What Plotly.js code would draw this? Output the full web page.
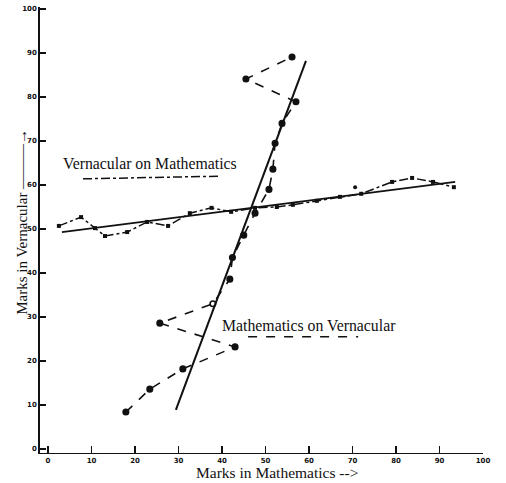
<!DOCTYPE html>
<html>
<head>
<meta charset="utf-8">
<script src="https://cdn.plot.ly/plotly-3.0.1.min.js"></script>
<style>html,body{margin:0;padding:0;background:#fff;}#chart{width:506px;height:483px;}</style>
</head>
<body>
<div id="chart"></div>
<script>
// Vernacular on Mathematics: mean vernacular mark for each mathematics class
var vomMath = [2.5, 7.6, 10.8, 13.1, 18.2, 22.8, 27.6, 32.6, 37.6, 42.1, 47.6, 52.6, 56.3, 61.8, 67.1, 72.0, 79.1, 83.7, 88.5, 93.3];
var vomVern = [50.7, 52.7, 50.2, 48.4, 49.3, 51.6, 50.7, 53.6, 54.8, 53.9, 54.8, 55.0, 55.5, 56.4, 57.3, 58.0, 60.7, 61.6, 60.7, 59.5];
var vomStrayMath = [70.6];
var vomStrayVern = [59.5];

// Mathematics on Vernacular: mean mathematics mark for each vernacular class
var movMath = [17.9, 23.4, 31.0, 43.0, 25.7, 37.9, 41.8, 42.4, 45.0, 47.6, 50.8, 51.7, 52.2, 53.8, 57.0, 45.5, 56.1];
var movVern = [8.4, 13.6, 18.2, 23.2, 28.6, 33.0, 38.6, 43.5, 48.6, 53.6, 59.0, 63.6, 69.5, 74.0, 78.9, 84.1, 89.1];
var movOpen = [false, false, false, false, false, true, false, false, false, false, false, false, false, false, false, false, false];

// Fitted regression lines (end points)
var regVomMath = [3.2, 93.6];
var regVomVern = [49.3, 60.7];
var regMovMath = [29.4, 59.3];
var regMovVern = [8.9, 88.2];

var tickVals = [0, 10, 20, 30, 40, 50, 60, 70, 80, 90, 100];
var tickText = ['0', '10', '20', '30', '40', '50', '60', '70', '80', '90', '100'];

var labelVom = 'Vernacular on Mathematics';
var labelMov = 'Mathematics on Vernacular';
var titleX = 'Marks in Mathematics -->';
var titleY = 'Marks in Vernacular ———→';

var ink = '#111';

var traces = [
  {x: vomMath, y: vomVern, mode: 'lines+markers', name: labelVom,
   line: {color: ink, width: 1.5, dash: 'dashdot'},
   marker: {color: ink, size: 4, symbol: 'square'}},
  {x: vomStrayMath, y: vomStrayVern, mode: 'markers', name: labelVom + ' (point)',
   marker: {color: ink, size: 4}},
  {x: movMath, y: movVern, mode: 'lines+markers', name: labelMov,
   line: {color: ink, width: 1.6, dash: 'dash'},
   marker: {color: ink, size: 5.5,
            symbol: movOpen.map(function(o){return o ? 'circle-open' : 'circle';}),
            line: {color: ink, width: 1.6}}},
  {x: regVomMath, y: regVomVern, mode: 'lines', name: 'Regression: ' + labelVom,
   line: {color: ink, width: 1.8}},
  {x: regMovMath, y: regMovVern, mode: 'lines', name: 'Regression: ' + labelMov,
   line: {color: ink, width: 2}}
];

var serif = 'Liberation Serif, DejaVu Serif, serif';

var layout = {
  width: 506, height: 483,
  margin: {l: 40, r: 23, t: 7, b: 30},
  paper_bgcolor: '#fff', plot_bgcolor: '#fff',
  showlegend: false,
  font: {family: serif, color: ink},
  xaxis: {
    range: [-1.84, 100], tickvals: tickVals, ticktext: tickText,
    ticks: 'inside', ticklen: 7, tickwidth: 1.2, tickcolor: ink,
    showline: true, linecolor: ink, linewidth: 1.2,
    showgrid: false, zeroline: false,
    tickfont: {family: 'DejaVu Sans', size: 7, color: ink, weight: 'bold'}
  },
  yaxis: {
    range: [-0.91, 100.45], tickvals: tickVals, ticktext: tickText,
    ticks: 'inside', ticklen: 6, tickwidth: 1.2, tickcolor: ink,
    showline: true, linecolor: ink, linewidth: 1.8,
    showgrid: false, zeroline: false,
    tickfont: {family: 'DejaVu Sans', size: 7, color: ink, weight: 'bold'}
  },
  annotations: [
    {x: 23.4, y: 64.8, xref: 'x', yref: 'y', text: labelVom, showarrow: false,
     font: {family: serif, size: 15.8, color: ink}},
    {x: 60.0, y: 28.0, xref: 'x', yref: 'y', text: labelMov, showarrow: false,
     font: {family: serif, size: 15.8, color: ink}},
    {x: 0.534, y: -0.043, xref: 'paper', yref: 'paper', yanchor: 'middle', xanchor: 'center',
     text: titleX, showarrow: false, font: {family: serif, size: 15.5, color: ink}},
    {x: -0.041, y: 0.518, xref: 'paper', yref: 'paper', xanchor: 'center', yanchor: 'middle',
     textangle: -90, text: titleY, showarrow: false, font: {family: serif, size: 15, color: ink}}
  ],
  shapes: [
    {type: 'line', xref: 'x', yref: 'y', x0: 8.05, y0: 61.4, x1: 39.5, y1: 62.0,
     line: {color: ink, width: 1.5, dash: 'dashdot'}},
    {type: 'line', xref: 'x', yref: 'y', x0: 46, y0: 25.5, x1: 71.3, y1: 25.5,
     line: {color: ink, width: 1.5, dash: 'dash'}}
  ]
};

Plotly.newPlot('chart', traces, layout, {displayModeBar: false, staticPlot: true});
</script>
</body>
</html>
